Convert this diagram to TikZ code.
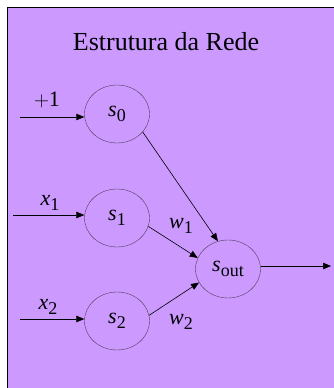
\documentclass[tikz,border=0pt]{standalone}
\usepackage{fontspec}
\setmainfont{Liberation Serif}
\usepackage{tikz}
\usetikzlibrary{arrows.meta, shapes.geometric}

\definecolor{redeviolet}{RGB}{204,153,255}
\definecolor{redeline}{RGB}{80,60,90}
\newcommand{\lbl}[2]{\textit{#1}\raisebox{-5.5pt}{\fontsize{18}{18}\selectfont #2}}

\begin{document}
\begin{tikzpicture}[
  x=1pt, y=-1pt,
  every node/.style={font=\fontsize{22}{22}\selectfont},
  unit/.style={ellipse, draw=redeline, minimum width=65pt, minimum height=58pt, inner sep=0pt},
  link/.style={-{Triangle[length=8pt,width=6.5pt]}, black, line width=0.6pt}
]
  \useasboundingbox (0,0) rectangle (334,388);
  \filldraw[fill=redeviolet, draw=black, line width=1pt] (7.5,7.5) rectangle (340,395);

  \node (title) at (166,42) {\fontsize{26}{26}\selectfont Estrutura da Rede};

  \node[unit] (s0) at (117,114) {\lbl{s}{0}};
  \node[unit] (s1) at (117,218) {\lbl{s}{1}};
  \node[unit] (s2) at (117,321) {\lbl{s}{2}};
  \node[unit] (sout) at (228,269) {\lbl{s}{out}};

  \coordinate (in0) at (20,117);
  \coordinate (in1) at (13,215);
  \coordinate (in2) at (20,319);
  \coordinate (out) at (331,266);

  \draw[link] (in0) -- (s0.west |- in0);
  \draw[link] (in1) -- (s1.west |- in1);
  \draw[link] (in2) -- (s2.west |- in2);
  \draw[link] (s0.-35) -- (sout.110);
  \draw[link] (s1.-15) -- (sout.160);
  \draw[link] (s2.10) -- (sout.-155);
  \draw[link] (sout.east |- out) -- (out);

  \node (one) at (47,100) {$+$1};
  \node (x1) at (50,203) {\lbl{x}{1}};
  \node (x2) at (48,307) {\lbl{x}{2}};
  \node (w1) at (181,226) {\lbl{w}{1}};
  \node (w2) at (181,322) {\lbl{w}{2}};
\end{tikzpicture}
\end{document}
